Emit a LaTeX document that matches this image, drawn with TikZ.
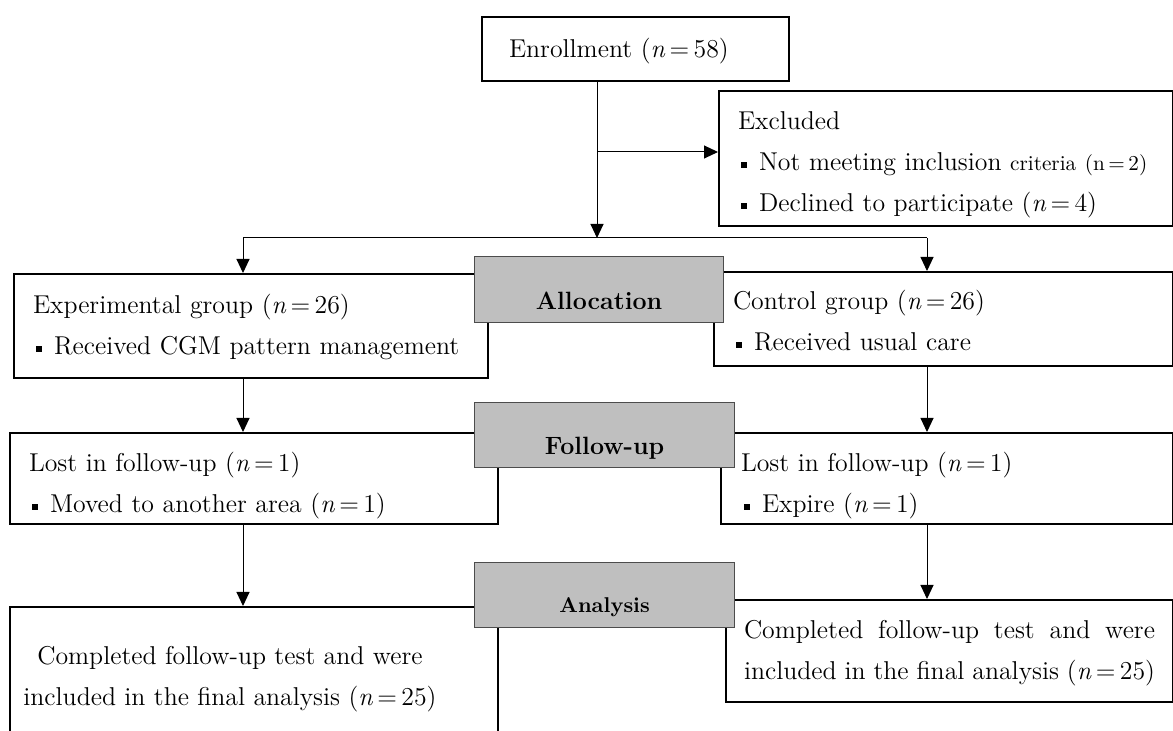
\documentclass[tikz,border=0pt]{standalone}
\usetikzlibrary{arrows.meta}

\newcommand{\boxfont}{\fontsize{12.9}{20.5}\selectfont}
\newcommand{\stagefont}{\fontsize{12.5}{15}\selectfont\bfseries}
\newcommand{\itemsq}{\hspace*{1.5pt}\rule[1.5pt]{3pt}{3pt}\hspace{6pt}}

\tikzset{
  box/.style={draw, line width=1pt, anchor=north west, align=left, inner ysep=0pt, font=\boxfont},
  stage/.style={draw=black!70, fill=black!25, line width=0.6pt, anchor=north west, inner sep=0pt, font=\stagefont},
  link/.style={line width=0.5pt},
  arrow/.style={link, -{Triangle[length=7pt,width=6.5pt]}},
}

\begin{document}
\begin{tikzpicture}[x=0.5pt,y=-0.5pt]
  \clip (0,0) rectangle (1173,731);
  \fill[white] (0,0) rectangle (1173,731);

  % boxes
  \node[box, text width=126.5pt, inner xsep=13.5pt] (enroll) at (481,16)
    {\rule{0pt}{20.5pt}Enrollment (\textit{n}\,=\,58)\rule[-11.5pt]{0pt}{11.5pt}};
  \node[box, text width=208pt, inner xsep=9.5pt] (excl) at (718,90)
    {\rule{0pt}{19.5pt}Excluded\\
     \mbox{\itemsq Not meeting inclusion {\fontsize{10.6}{20.5}\selectfont criteria (n\,=\,2)}}\\
     \itemsq Declined to participate (\textit{n}\,=\,4)\rule[-7pt]{0pt}{7pt}};
  \node[box, text width=218pt, inner xsep=9.5pt] (exp) at (13,273)
    {\rule{0pt}{20pt}Experimental group (\textit{n}\,=\,26)\\
     \mbox{\itemsq Received CGM pattern management}\rule[-11.5pt]{0pt}{11.5pt}};
  \node[box, text width=210.5pt, inner xsep=9.5pt] (ctrl) at (713,271)
    {\rule{0pt}{19pt}Control group (\textit{n}\,=\,26)\\
     \itemsq Received usual care\rule[-7.5pt]{0pt}{7.5pt}};
  \node[box, text width=225pt, inner xsep=9.5pt] (lostL) at (9,432)
    {\rule{0pt}{19.5pt}Lost in follow-up (\textit{n}\,=\,1)\\
     \itemsq Moved to another area (\textit{n}\,=\,1)\rule[-5.5pt]{0pt}{5.5pt}};
  \node[box, text width=206pt, inner xsep=10pt] (lostR) at (720,432)
    {\rule{0pt}{19.5pt}Lost in follow-up (\textit{n}\,=\,1)\\
     \itemsq Expire (\textit{n}\,=\,1)\rule[-5.5pt]{0pt}{5.5pt}};
  \node[box, minimum width=244pt, minimum height=87pt, inner sep=0pt] (anaL) at (9,606) {};
  \node[font=\boxfont, align=center, inner sep=0pt] (anaLtxt) at (230,679)
    {Completed follow-up test and were\\included in the final analysis (\textit{n}\,=\,25)};
  \node[box, text width=205.5pt, inner xsep=9pt, align=justify] (anaR) at (725,599)
    {\rule{0pt}{19.5pt}Completed follow-up test and were\linebreak
     included in the final analysis (\textit{n}\,=\,25)\rule[-11pt]{0pt}{11pt}};

  % stage labels
  \node[stage, minimum width=124.5pt, text height=26.5pt, text depth=6.5pt] (alloc) at (474,256) {Allocation};
  \node[stage, minimum width=130pt, text height=26pt, text depth=6.5pt] (follow) at (474,402) {Follow-up};
  \node[stage, minimum width=130pt, text height=25pt, text depth=7.5pt,
        font=\fontsize{10.7}{13}\selectfont\bfseries] (analysis) at (474,562) {Analysis};

  % connectors
  \coordinate (split) at (597,238);
  \coordinate (exclpt) at (597,152);
  \coordinate (forkL) at (243,238);
  \coordinate (forkR) at (927,238);
  \draw[arrow] (enroll.south -| split) -- (split);
  \draw[arrow] (exclpt) -- (exclpt -| excl.west);
  \draw[link] (forkL) -- (forkR);
  \draw[arrow] (forkL) -- (forkL |- exp.north);
  \draw[arrow] (forkR) -- (forkR |- ctrl.north);
  \draw[arrow] (forkL |- exp.south) -- (forkL |- lostL.north);
  \draw[arrow] (forkR |- ctrl.south) -- (forkR |- lostR.north);
  \draw[arrow] (forkL |- lostL.south) -- (forkL |- anaL.north);
  \draw[arrow] (forkR |- lostR.south) -- (forkR |- anaR.north);
\end{tikzpicture}
\end{document}
